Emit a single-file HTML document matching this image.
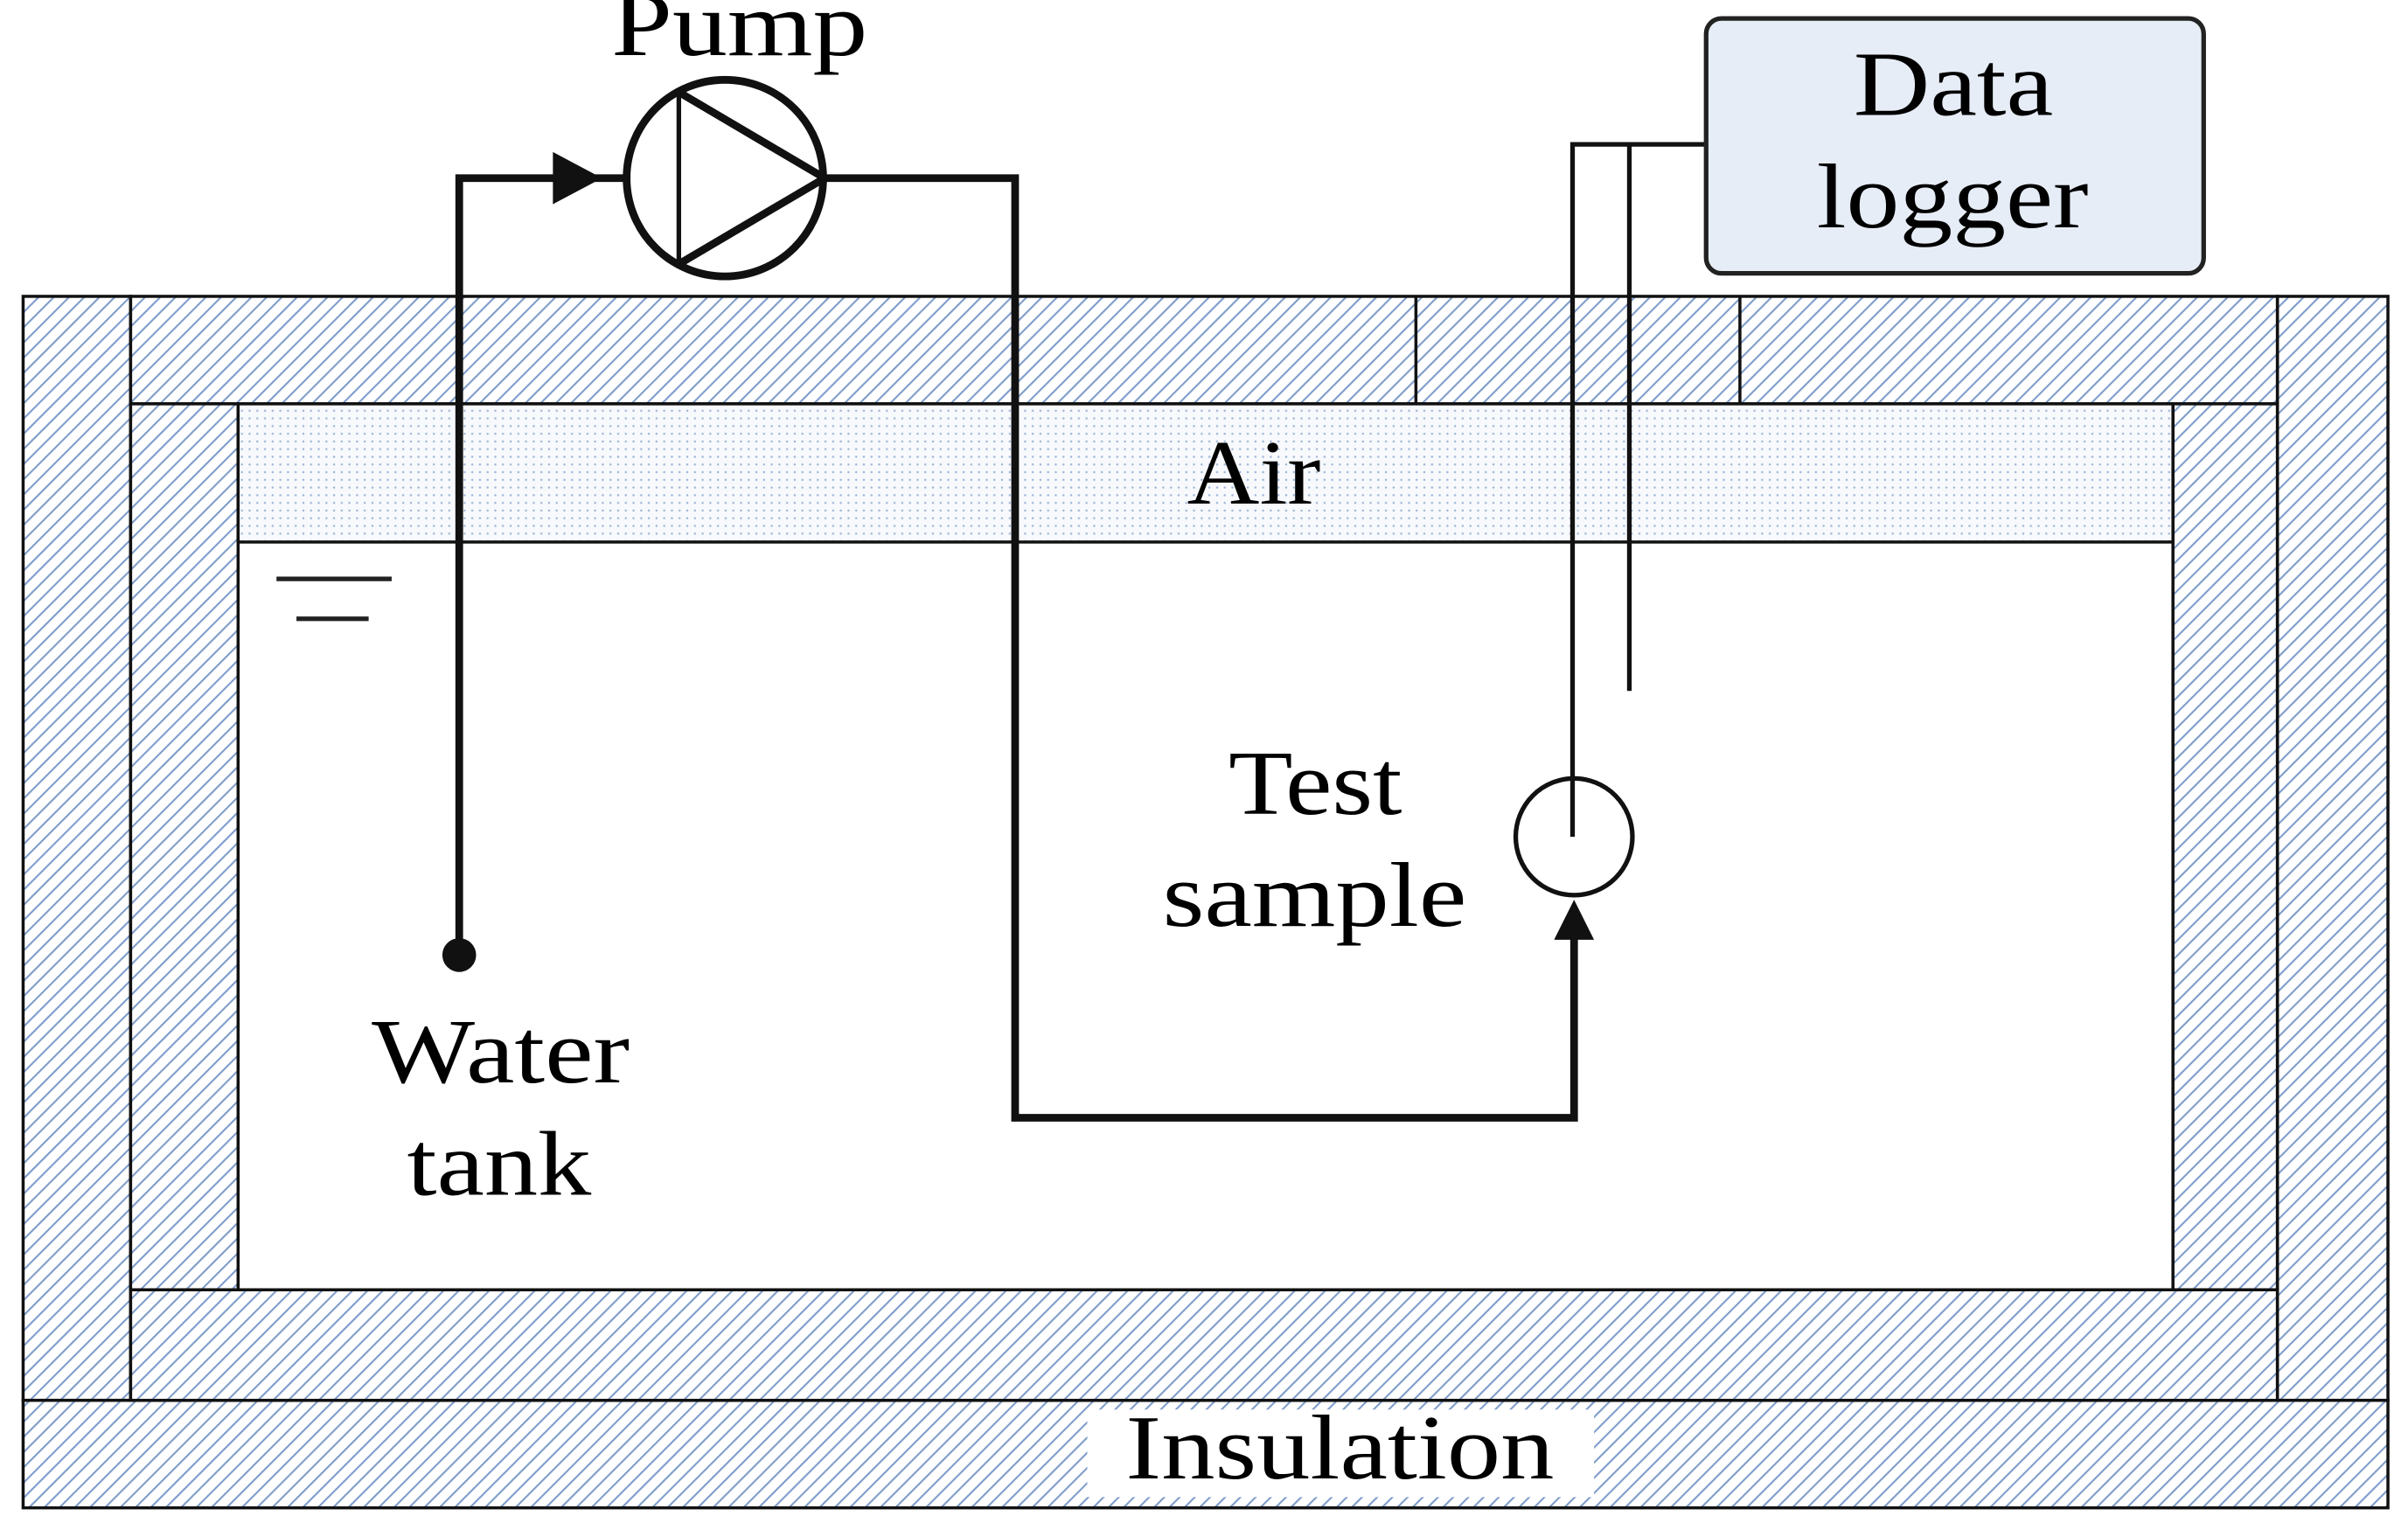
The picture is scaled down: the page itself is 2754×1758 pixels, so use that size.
<!DOCTYPE html>
<html><head><style>html,body{margin:0;padding:0;background:#fff}svg{display:block}</style></head>
<body>
<svg width="2754" height="1758" viewBox="0 0 1568 1001" xmlns="http://www.w3.org/2000/svg">
<defs>
<pattern id="h" width="7" height="7" patternUnits="userSpaceOnUse" patternTransform="rotate(45)">
<rect width="7" height="7" fill="#fff"/>
<line x1="0" y1="0" x2="0" y2="7" stroke="#7f9dcb" stroke-width="2.4"/>
</pattern>
<pattern id="d" width="5" height="5" patternUnits="userSpaceOnUse">
<rect width="5" height="5" fill="#f7f9fc"/>
<circle cx="2.5" cy="2.5" r="0.7" fill="#9fb4d6"/>
</pattern>
</defs>
<g stroke="#111" stroke-width="2">
<rect x="15" y="193" width="70" height="719" fill="url(#h)"/>
<rect x="1483" y="193" width="72" height="719" fill="url(#h)"/>
<rect x="15" y="912" width="1540" height="70" fill="url(#h)"/>
<rect x="85" y="193" width="1398" height="70" fill="url(#h)"/>
<line x1="922" y1="193" x2="922" y2="263"/>
<line x1="1133" y1="193" x2="1133" y2="263"/>
<rect x="85" y="263" width="70" height="577" fill="url(#h)"/>
<rect x="1415" y="263" width="68" height="577" fill="url(#h)"/>
<rect x="85" y="840" width="1398" height="72" fill="url(#h)"/>
<rect x="155" y="263" width="1260" height="90" fill="url(#d)"/>
</g>
<rect x="708" y="918" width="330" height="57" fill="#fff"/>
<g stroke="#222" stroke-width="3">
<line x1="180" y1="377" x2="255" y2="377"/>
<line x1="193" y1="403" x2="240" y2="403"/>
</g>
<g fill="none" stroke="#111" stroke-width="5">
<polyline points="299,622 299,116 408,116"/>
<polyline points="537,116 661,116 661,728 1025,728 1025,610"/>
</g>
<polygon points="360,99 392,116 360,133" fill="#111"/>
<polygon points="1025,586 1012,612 1038,612" fill="#111"/>
<circle cx="299" cy="622" r="11" fill="#111"/>
<circle cx="472" cy="116" r="64" fill="#fff" stroke="#111" stroke-width="5"/>
<polyline points="442,60 537,116 442,172" fill="none" stroke="#111" stroke-width="5"/>
<line x1="442" y1="60" x2="442" y2="172" stroke="#111" stroke-width="3"/>
<circle cx="1025" cy="545" r="38" fill="#fff" stroke="#111" stroke-width="3"/>
<g fill="none" stroke="#111" stroke-width="3">
<polyline points="1111,94 1024,94 1024,545"/>
<line x1="1061" y1="94" x2="1061" y2="450"/>
</g>
<rect x="1111" y="12" width="324" height="166" rx="10" fill="#e6edf7" stroke="#222" stroke-width="3"/>
<g font-family="Liberation Serif, serif" font-size="60" fill="#000" lengthAdjust="spacingAndGlyphs">
<text x="398" y="36" textLength="167" lengthAdjust="spacingAndGlyphs">Pump</text>
<text x="1207" y="75" textLength="130" lengthAdjust="spacingAndGlyphs">Data</text>
<text x="1183" y="148" textLength="177" lengthAdjust="spacingAndGlyphs">logger</text>
<text x="773" y="328" textLength="87" lengthAdjust="spacingAndGlyphs">Air</text>
<text x="800" y="530" textLength="113" lengthAdjust="spacingAndGlyphs">Test</text>
<text x="757" y="603" textLength="198" lengthAdjust="spacingAndGlyphs">sample</text>
<text x="242" y="705" textLength="168" lengthAdjust="spacingAndGlyphs">Water</text>
<text x="265" y="778" textLength="120" lengthAdjust="spacingAndGlyphs">tank</text>
<text x="733" y="963" textLength="279" lengthAdjust="spacingAndGlyphs">Insulation</text>
</g>
</svg>
</body></html>
